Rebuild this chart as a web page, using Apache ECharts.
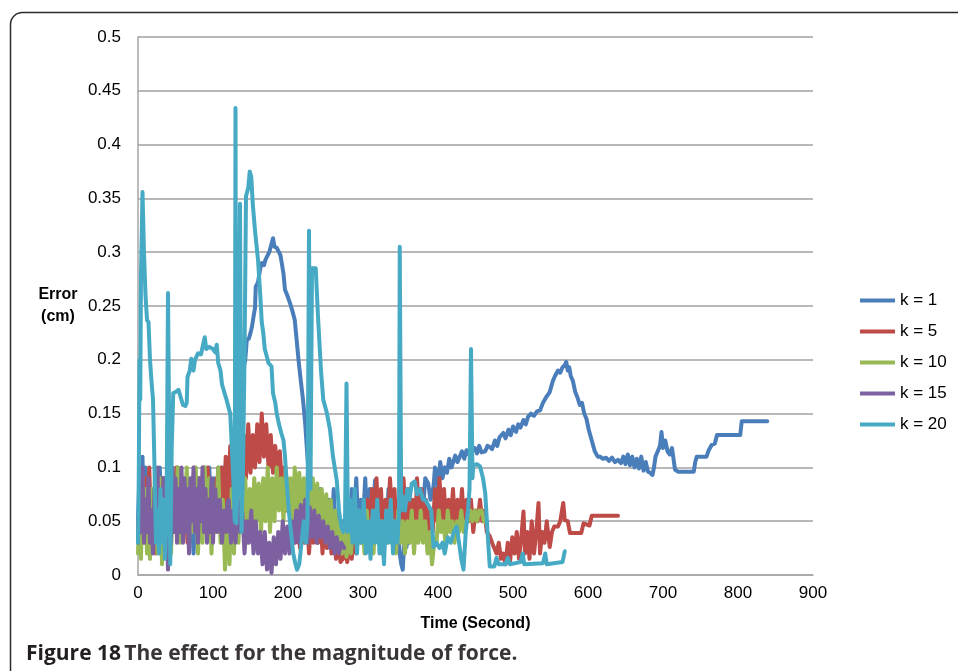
<!DOCTYPE html>
<html>
<head>
<meta charset="utf-8">
<script src="https://cdn.jsdelivr.net/npm/echarts@6/dist/echarts.min.js"></script>
<style>html,body{margin:0;padding:0;background:#fff;}#c{width:958px;height:671px;}</style>
</head>
<body>
<div id="c"></div>
<script>
const seriesNames = ['k = 1', 'k = 5', 'k = 10', 'k = 15', 'k = 20'];
const xTicks = [0, 100, 200, 300, 400, 500, 600, 700, 800, 900];
const yTicks = [0, 0.05, 0.1, 0.15, 0.2, 0.25, 0.3, 0.35, 0.4, 0.45, 0.5];

const k1 = [[0,0.05],[2,0.09],[4,0.03],[6,0.11],[8,0.04],[10,0.1],[12,0.03],[14,0.07],[16,0.02],[18,0.08],[20,0.04],[23,0.09],[26,0.03],[29,0.1],[32,0.05],[35,0.09],[38,0.02],[41,0.07],[44,0.04],[47,0.09],[50,0.05],[53,0.1],[56,0.06],[59,0.09],[62,0.04],[65,0.08],[68,0.03],[71,0.07],[74,0.02],[77,0.06],[80,0.04],[83,0.09],[86,0.05],[89,0.1],[92,0.06],[95,0.1],[98,0.05],[101,0.09],[104,0.06],[107,0.1],[110,0.07],[113,0.1],[116,0.06],[119,0.1],[122,0.08],[125,0.11],[128,0.1],[131,0.13],[134,0.14],[137,0.16],[140,0.19],[143,0.2],[145,0.218],[148,0.22],[150,0.225],[152,0.231],[154,0.24],[156,0.248],[157,0.268],[160,0.272],[163,0.285],[165,0.29],[168,0.288],[170,0.293],[172,0.293],[175,0.3],[177,0.305],[180,0.313],[182,0.305],[185,0.304],[188,0.3],[190,0.297],[192,0.297],[194,0.28],[196,0.265],[199,0.26],[203,0.252],[206,0.245],[209,0.237],[212,0.215],[214,0.2],[216,0.187],[218,0.175],[220,0.163],[223,0.14],[225,0.119],[228,0.09],[231,0.06],[234,0.04],[237,0.07],[240,0.03],[243,0.08],[246,0.04],[249,0.06],[252,0.03],[255,0.07],[258,0.04],[261,0.08],[264,0.03],[267,0.06],[270,0.02],[273,0.05],[276,0.03],[279,0.07],[282,0.04],[285,0.08],[288,0.05],[291,0.09],[294,0.04],[297,0.07],[300,0.05],[303,0.09],[306,0.04],[309,0.08],[312,0.03],[316,0.088],[319,0.04],[322,0.07],[325,0.02],[328,0.06],[331,0.03],[334,0.08],[337,0.04],[340,0.07],[343,0.03],[346,0.05],[349,0.02],[351,0.01],[353,0.005],[355,0.03],[358,0.026],[360,0.05],[362,0.03],[365,0.06],[368,0.04],[371,0.07],[374,0.05],[377,0.08],[380,0.06],[383,0.09],[387,0.085],[390,0.07],[394,0.082],[396,0.1],[398,0.096],[400,0.08],[403,0.105],[406,0.09],[409,0.1],[412,0.095],[415,0.108],[418,0.1],[423,0.111],[426,0.105],[429,0.11],[432,0.115],[435,0.108],[438,0.116],[441,0.112],[444,0.117],[449,0.118],[452,0.113],[455,0.12],[458,0.114],[463,0.115],[466,0.12],[469,0.119],[472,0.117],[476,0.125],[479,0.12],[482,0.128],[487,0.132],[490,0.127],[494,0.135],[497,0.13],[500,0.138],[504,0.133],[507,0.14],[510,0.137],[514,0.144],[517,0.14],[520,0.147],[524,0.15],[528,0.148],[532,0.152],[536,0.153],[540,0.16],[544,0.165],[549,0.17],[553,0.18],[556,0.185],[560,0.19],[563,0.188],[566,0.193],[569,0.195],[571,0.198],[573,0.19],[575,0.193],[577,0.185],[580,0.18],[583,0.17],[586,0.165],[589,0.158],[592,0.16],[595,0.15],[598,0.145],[601,0.135],[605,0.125],[609,0.115],[613,0.11],[616,0.11],[620,0.108],[624,0.109],[628,0.106],[632,0.109],[636,0.105],[640,0.107],[644,0.104],[647,0.11],[650,0.103],[653,0.112],[656,0.102],[659,0.11],[662,0.1],[665,0.108],[668,0.099],[671,0.11],[674,0.097],[677,0.105],[680,0.096],[683,0.095],[686,0.093],[688,0.1],[690,0.11],[693,0.115],[696,0.12],[698,0.133],[700,0.118],[703,0.125],[706,0.115],[709,0.112],[712,0.118],[714,0.119],[716,0.098],[720,0.096],[730,0.096],[741,0.096],[743,0.105],[745,0.11],[758,0.11],[761,0.116],[765,0.121],[769,0.122],[772,0.13],[803,0.13],[805,0.143],[839,0.143]];

const k5 = [[0,0.04],[3,0.08],[6,0.03],[9,0.09],[12,0.04],[15,0.1],[18,0.03],[21,0.07],[24,0.02],[27,0.08],[30,0.04],[33,0.09],[36,0.03],[39,0.06],[42,0.02],[45,0.08],[48,0.04],[51,0.1],[54,0.05],[57,0.09],[60,0.04],[63,0.07],[66,0.03],[69,0.08],[72,0.05],[75,0.1],[78,0.04],[81,0.09],[84,0.05],[87,0.1],[90,0.06],[93,0.1],[96,0.05],[99,0.08],[102,0.04],[105,0.09],[108,0.05],[111,0.1],[114,0.06],[117,0.11],[120,0.07],[123,0.12],[126,0.08],[129,0.13],[132,0.09],[135,0.12],[138,0.085],[141,0.13],[144,0.09],[147,0.14],[150,0.095],[153,0.13],[156,0.1],[159,0.14],[162,0.105],[165,0.15],[168,0.11],[171,0.14],[174,0.1],[177,0.13],[180,0.095],[183,0.12],[186,0.09],[189,0.115],[192,0.085],[195,0.1],[198,0.06],[201,0.08],[204,0.045],[207,0.07],[210,0.03],[213,0.06],[216,0.025],[219,0.05],[222,0.03],[225,0.06],[228,0.02],[231,0.05],[234,0.03],[237,0.07],[240,0.03],[243,0.06],[246,0.02],[249,0.05],[252,0.025],[255,0.045],[258,0.02],[261,0.04],[264,0.015],[267,0.03],[270,0.012],[273,0.015],[276,0.02],[279,0.012],[282,0.03],[285,0.015],[288,0.04],[291,0.02],[294,0.05],[297,0.03],[300,0.06],[303,0.03],[306,0.07],[309,0.04],[312,0.08],[315,0.03],[318,0.09],[321,0.04],[324,0.08],[327,0.03],[330,0.07],[333,0.04],[336,0.09],[339,0.05],[342,0.08],[345,0.03],[348,0.07],[351,0.04],[354,0.09],[357,0.05],[360,0.08],[363,0.04],[366,0.07],[369,0.03],[372,0.09],[375,0.05],[378,0.08],[381,0.04],[384,0.07],[387,0.03],[390,0.06],[393,0.04],[396,0.08],[399,0.05],[402,0.09],[405,0.05],[408,0.08],[411,0.04],[414,0.07],[417,0.05],[420,0.08],[423,0.04],[426,0.07],[429,0.05],[432,0.08],[435,0.04],[438,0.07],[441,0.05],[444,0.07],[447,0.04],[450,0.06],[453,0.05],[456,0.07],[459,0.05],[462,0.06],[465,0.04],[469,0.036],[472,0.03],[475,0.025],[478,0.02],[481,0.03],[484,0.015],[487,0.02],[490,0.01],[493,0.03],[496,0.012],[499,0.035],[502,0.02],[505,0.04],[508,0.015],[511,0.035],[514,0.059],[516,0.02],[519,0.04],[522,0.015],[525,0.05],[528,0.02],[531,0.04],[534,0.067],[536,0.02],[539,0.04],[542,0.03],[545,0.05],[549,0.026],[552,0.04],[555,0.045],[560,0.045],[563,0.05],[567,0.067],[569,0.051],[573,0.05],[576,0.039],[591,0.039],[594,0.048],[602,0.046],[605,0.055],[640,0.055]];

const k10 = [[0,0.02],[2,0.07],[4,0.015],[6,0.09],[8,0.03],[10,0.08],[12,0.02],[14,0.06],[16,0.015],[18,0.08],[20,0.03],[23,0.1],[26,0.02],[29,0.09],[32,0.01],[35,0.07],[38,0.03],[41,0.1],[44,0.02],[47,0.08],[50,0.04],[53,0.1],[56,0.03],[59,0.09],[62,0.05],[65,0.1],[68,0.03],[71,0.09],[74,0.04],[77,0.1],[80,0.02],[83,0.08],[86,0.03],[89,0.1],[92,0.04],[95,0.09],[98,0.02],[101,0.08],[104,0.04],[107,0.1],[110,0.03],[113,0.07],[116,0.005],[119,0.06],[122,0.01],[125,0.08],[128,0.02],[131,0.09],[134,0.03],[137,0.1],[140,0.04],[143,0.09],[146,0.03],[149,0.08],[152,0.04],[155,0.09],[158,0.05],[161,0.085],[164,0.04],[167,0.09],[170,0.05],[173,0.1],[176,0.04],[179,0.09],[182,0.05],[185,0.1],[188,0.06],[191,0.09],[194,0.05],[197,0.1],[200,0.06],[203,0.09],[206,0.05],[209,0.1],[212,0.06],[215,0.095],[218,0.05],[221,0.09],[224,0.06],[227,0.1],[230,0.05],[233,0.09],[236,0.05],[239,0.085],[242,0.04],[245,0.08],[248,0.04],[251,0.075],[254,0.03],[257,0.07],[260,0.03],[263,0.06],[266,0.025],[269,0.05],[272,0.02],[275,0.04],[278,0.017],[281,0.04],[284,0.02],[287,0.05],[290,0.03],[293,0.06],[296,0.03],[299,0.05],[302,0.02],[305,0.06],[308,0.03],[311,0.05],[314,0.02],[317,0.06],[320,0.03],[323,0.05],[326,0.02],[329,0.05],[332,0.03],[335,0.06],[338,0.03],[341,0.05],[344,0.02],[347,0.06],[350,0.03],[353,0.05],[356,0.02],[359,0.05],[362,0.03],[365,0.06],[368,0.02],[371,0.05],[374,0.03],[377,0.06],[380,0.03],[383,0.05],[386,0.02],[389,0.04],[392,0.01],[395,0.03],[398,0.03],[401,0.06],[404,0.04],[407,0.05],[410,0.03],[413,0.06],[416,0.04],[419,0.05],[422,0.03],[425,0.05],[428,0.04],[431,0.06],[434,0.04],[437,0.05],[440,0.05],[443,0.06],[446,0.05],[449,0.06],[452,0.05],[455,0.06],[458,0.06],[461,0.05],[465,0.048]];

const k15 = [[0,0.03],[2,0.08],[4,0.04],[6,0.1],[8,0.03],[10,0.07],[12,0.04],[14,0.09],[16,0.03],[18,0.06],[20,0.02],[22,0.08],[24,0.04],[26,0.1],[28,0.03],[30,0.07],[32,0.05],[34,0.09],[36,0.02],[38,0.06],[40,0.005],[42,0.07],[44,0.03],[46,0.1],[48,0.04],[50,0.09],[52,0.03],[54,0.08],[56,0.04],[58,0.1],[60,0.03],[62,0.09],[64,0.04],[66,0.08],[68,0.02],[70,0.09],[72,0.05],[74,0.1],[76,0.04],[78,0.08],[80,0.03],[82,0.09],[84,0.05],[86,0.1],[88,0.04],[90,0.08],[92,0.03],[94,0.07],[96,0.04],[98,0.09],[100,0.03],[103,0.08],[106,0.04],[109,0.07],[112,0.03],[115,0.06],[118,0.04],[121,0.07],[124,0.03],[127,0.06],[130,0.03],[133,0.07],[136,0.04],[139,0.06],[142,0.02],[145,0.05],[148,0.03],[151,0.06],[154,0.02],[157,0.05],[160,0.02],[163,0.04],[166,0.01],[169,0.04],[172,0.005],[175,0.03],[178,0.002],[181,0.035],[184,0.01],[187,0.04],[190,0.015],[193,0.05],[196,0.02],[199,0.045],[202,0.02],[205,0.05],[208,0.03],[211,0.06],[214,0.03],[217,0.065],[220,0.04],[223,0.07],[226,0.03],[229,0.063],[232,0.035],[235,0.06],[238,0.03],[241,0.055],[244,0.035],[247,0.05],[250,0.03],[253,0.045],[256,0.025],[259,0.04],[262,0.02],[265,0.035],[268,0.02],[271,0.03],[275,0.025]];

const k20 = [[0,0.03],[1,0.09],[2,0.2],[3,0.163],[4,0.28],[6,0.356],[8,0.3],[10,0.26],[12,0.237],[14,0.235],[16,0.2],[18,0.18],[20,0.163],[22,0.1],[24,0.03],[26,0.06],[28,0.02],[30,0.08],[32,0.03],[34,0.07],[36,0.015],[38,0.05],[40,0.262],[42,0.1],[43,0.01],[45,0.12],[47,0.169],[50,0.17],[54,0.172],[57,0.165],[60,0.158],[63,0.157],[65,0.16],[66,0.184],[69,0.19],[71,0.201],[74,0.19],[76,0.2],[80,0.206],[84,0.205],[87,0.215],[89,0.221],[91,0.21],[95,0.212],[100,0.21],[103,0.207],[105,0.214],[107,0.197],[110,0.19],[112,0.177],[115,0.17],[118,0.163],[121,0.155],[123,0.15],[125,0.12],[127,0.09],[129,0.05],[130,0.434],[131,0.048],[133,0.09],[136,0.345],[138,0.04],[140,0.1],[142,0.2],[144,0.352],[147,0.36],[149,0.375],[151,0.37],[153,0.345],[156,0.32],[160,0.293],[163,0.26],[165,0.235],[167,0.225],[169,0.21],[171,0.205],[174,0.197],[178,0.194],[180,0.169],[183,0.16],[185,0.15],[188,0.14],[191,0.132],[194,0.125],[196,0.11],[198,0.088],[201,0.06],[204,0.04],[207,0.02],[210,0.01],[212,0.005],[215,0.01],[218,0.03],[221,0.05],[224,0.03],[226,0.05],[228,0.32],[230,0.08],[232,0.285],[237,0.285],[240,0.24],[244,0.19],[247,0.163],[252,0.15],[256,0.135],[260,0.11],[265,0.088],[268,0.06],[271,0.045],[274,0.04],[276,0.05],[278,0.178],[280,0.04],[283,0.07],[286,0.03],[289,0.08],[292,0.02],[295,0.06],[298,0.03],[301,0.07],[304,0.02],[307,0.05],[310,0.015],[313,0.06],[316,0.03],[319,0.07],[322,0.02],[325,0.05],[328,0.01],[331,0.06],[334,0.03],[337,0.07],[340,0.02],[343,0.05],[346,0.03],[348,0.06],[349,0.305],[351,0.06],[353,0.073],[356,0.06],[359,0.08],[362,0.07],[365,0.085],[369,0.087],[372,0.075],[376,0.08],[380,0.07],[383,0.07],[387,0.065],[391,0.06],[394,0.026],[398,0.03],[402,0.025],[406,0.03],[409,0.02],[413,0.035],[417,0.03],[421,0.04],[425,0.045],[428,0.03],[431,0.015],[434,0.005],[437,0.04],[440,0.06],[442,0.08],[444,0.21],[446,0.09],[447,0.102],[452,0.103],[456,0.101],[460,0.09],[463,0.076],[466,0.04],[469,0.008],[475,0.008],[478,0.016],[481,0.01],[490,0.01],[493,0.016],[496,0.01],[510,0.012],[513,0.02],[515,0.01],[540,0.011],[543,0.02],[545,0.01],[566,0.012],[568,0.013],[569,0.022]];

const seriesData = [k1, k5, k10, k15, k20];
const colors = ['#4a7ebb', '#be4b48', '#98b954', '#7d60a0', '#46aac5'];

const chart = echarts.init(document.getElementById('c'), null, {renderer: 'canvas'});
const font = '"Liberation Sans", Arial, sans-serif';
chart.setOption({
  animation: false,
  backgroundColor: '#fff',
  color: colors,
  grid: {left: 138, right: 145, top: 37, bottom: 96, containLabel: false},
  xAxis: {
    type: 'value', min: xTicks[0], max: xTicks[xTicks.length - 1], interval: 100,
    name: 'Time (Second)', nameLocation: 'middle', nameGap: 41,
    nameTextStyle: {fontFamily: font, fontSize: 16, fontWeight: 'bold', color: '#000'},
    axisLine: {show: true, lineStyle: {color: '#a6a6a6', width: 1.5}},
    axisTick: {show: false},
    splitLine: {show: false},
    axisLabel: {fontFamily: font, fontSize: 17, color: '#000', margin: 10}
  },
  yAxis: {
    type: 'value', min: yTicks[0], max: yTicks[yTicks.length - 1], interval: 0.05,
    name: 'Error\n(cm)', nameLocation: 'middle', nameRotate: 0, nameGap: 80,
    nameTextStyle: {fontFamily: font, fontSize: 16, fontWeight: 'bold', color: '#000', lineHeight: 22, align: 'center', padding: [14, 0, 0, 0]},
    axisLine: {show: true, lineStyle: {color: '#a6a6a6', width: 1.5}},
    axisTick: {show: false},
    splitLine: {show: true, lineStyle: {color: '#a0a0a0', width: 1.5}},
    axisLabel: {fontFamily: font, fontSize: 17, color: '#000', margin: 17,
      formatter: v => String(+v.toFixed(2))}
  },
  legend: {
    orient: 'vertical', left: 855, top: 287,
    icon: 'rect',
    itemWidth: 35, itemHeight: 4, itemGap: 14,
    textStyle: {fontFamily: font, fontSize: 17, color: '#000'},
    data: seriesNames
  },
  graphic: [
    {type: 'rect', silent: true, shape: {x: 10.5, y: 12.5, width: 1000, height: 1000, r: 12},
     style: {fill: 'none', stroke: '#2a2a2a', lineWidth: 1.5}},
    {type: 'text', left: 26, top: 644,
     style: {text: '{a|Figure 18} {b|The effect for the magnitude of force.}',
       rich: {
         a: {fontFamily: '"Open Sans", sans-serif', fontSize: 21, fontWeight: 'bold', fill: '#231f20'},
         b: {fontFamily: '"Open Sans", sans-serif', fontSize: 21, fontWeight: 'bold', fill: '#3a3536'}
       }}}
  ],
  series: seriesData.map((d, i) => ({
    name: seriesNames[i], type: 'line', data: d, showSymbol: false, symbol: 'none',
    lineStyle: {width: 4, color: colors[i], join: 'round', cap: 'round'},
    itemStyle: {color: colors[i]}
  }))
});
</script>
</body>
</html>
